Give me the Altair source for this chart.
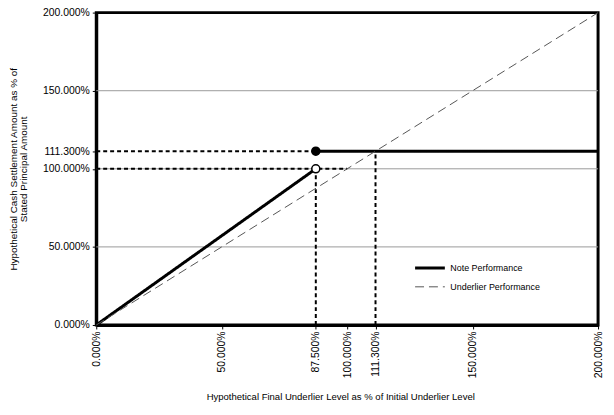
import altair as alt
import pandas as pd

FONT = "Liberation Sans"

# Axis ticks (as fractions, shown as percentages)
x_ticks = [0.0, 0.5, 0.875, 1.0, 1.113, 1.5, 2.0]
y_ticks = [0.0, 0.5, 1.0, 1.113, 1.5, 2.0]
grid_y = [0.5, 1.0, 1.5]

series_names = ["Note Performance", "Underlier Performance"]

# Note performance: two segments
note_seg = ["a", "a", "b", "b"]
note_x = [0.0, 0.875, 0.875, 2.0]
note_y = [0.0, 1.0, 1.113, 1.113]

# Underlier performance
under_x = [0.0, 2.0]
under_y = [0.0, 2.0]

# Dashed guide lines
guide_x = [0.0, 0.0, 0.875, 1.113]
guide_x2 = [1.0, 0.875, 0.875, 1.113]
guide_y = [1.0, 1.113, 0.0, 0.0]
guide_y2 = [1.0, 1.113, 1.0, 1.113]

# Markers
dot_x = [0.875, 0.875]
dot_y = [1.113, 1.0]
dot_kind = ["filled", "open"]

lines = pd.DataFrame({
    "series": [series_names[0]] * len(note_x) + [series_names[1]] * len(under_x),
    "seg": note_seg + ["c"] * len(under_x),
    "x": note_x + under_x,
    "y": note_y + under_y,
})
guides = pd.DataFrame({"x": guide_x, "x2": guide_x2, "y": guide_y, "y2": guide_y2})
grid = pd.DataFrame({"y": grid_y})
dots = pd.DataFrame({"x": dot_x, "y": dot_y, "kind": dot_kind})

xscale = alt.Scale(domain=[0, 2], nice=False, zero=False)
yscale = alt.Scale(domain=[0, 2], nice=False, zero=False)

x_axis = alt.Axis(
    values=x_ticks, format=".3%", labelAngle=270, grid=False,
    tickSize=4, tickColor="black", tickWidth=1,
    domainColor="black", domainWidth=3,
    labelFont=FONT, labelFontSize=10.5, labelColor="black", labelPadding=2,
    labelFlush=False, labelOverlap=False, labelBound=False,
    title="Hypothetical Final Underlier Level as % of Initial Underlier Level",
    titleFont=FONT, titleFontSize=9.6, titleFontWeight="normal", titleColor="black",
    titleX=246, titleY=67, titleBaseline="top",
)
y_axis = alt.Axis(
    values=y_ticks, format=".3%", grid=False,
    tickSize=4, tickColor="black", tickWidth=1,
    domainColor="black", domainWidth=3,
    labelFont=FONT, labelFontSize=10.5, labelColor="black", labelPadding=3,
    labelFlush=False, labelOverlap=False, labelBound=False,
    title=["Hypothetical Cash Settlement Amount as % of", "Stated Principal Amount"],
    titleFont=FONT, titleFontSize=10, titleFontWeight="normal", titleColor="black",
    titleLineHeight=10, titleX=-78, titleBaseline="bottom",
)

grid_layer = alt.Chart(grid).mark_rule(color="#9a9a9a", strokeWidth=1).encode(
    y=alt.Y("y:Q", scale=yscale, axis=y_axis),
)

guide_layer = alt.Chart(guides).mark_rule(
    color="black", strokeWidth=2, strokeDash=[4, 3]
).encode(
    x=alt.X("x:Q", scale=xscale, axis=x_axis),
    x2="x2:Q",
    y=alt.Y("y:Q", scale=yscale),
    y2="y2:Q",
)

leg = alt.Legend(
    title=None, orient="none", legendX=325, legendY=246,
    labelFont=FONT, labelFontSize=9, labelColor="black",
    symbolType="M-1.5,0H1.5", symbolSize=400, rowPadding=2, labelOffset=9,
)

line_layer = alt.Chart(lines).mark_line().encode(
    x=alt.X("x:Q", scale=xscale),
    y=alt.Y("y:Q", scale=yscale),
    detail="seg:N",
    color=alt.Color("series:N", scale=alt.Scale(domain=series_names, range=["#000000", "#555555"]), legend=leg),
    strokeDash=alt.StrokeDash("series:N", scale=alt.Scale(domain=series_names, range=[[1, 0], [9, 5]]), legend=leg),
    strokeWidth=alt.StrokeWidth("series:N", scale=alt.Scale(domain=series_names, range=[3, 1]), legend=leg),
)

dot_layer = alt.Chart(dots).mark_point(size=65, strokeWidth=1.5, opacity=1).encode(
    x=alt.X("x:Q", scale=xscale),
    y=alt.Y("y:Q", scale=yscale),
    fill=alt.Fill("kind:N", scale=alt.Scale(domain=["filled", "open"], range=["black", "white"]), legend=None),
    stroke=alt.value("black"),
)

chart = alt.layer(grid_layer, guide_layer, line_layer, dot_layer).properties(
    width=506, height=315,
    autosize=alt.AutoSizeParams(type="none"),
    padding={"left": 89, "top": 3, "right": 8, "bottom": 77},
    background="white",
).configure_view(stroke="black", strokeWidth=3)

chart.save("out.html", embed_options={"renderer": "svg", "actions": False})
